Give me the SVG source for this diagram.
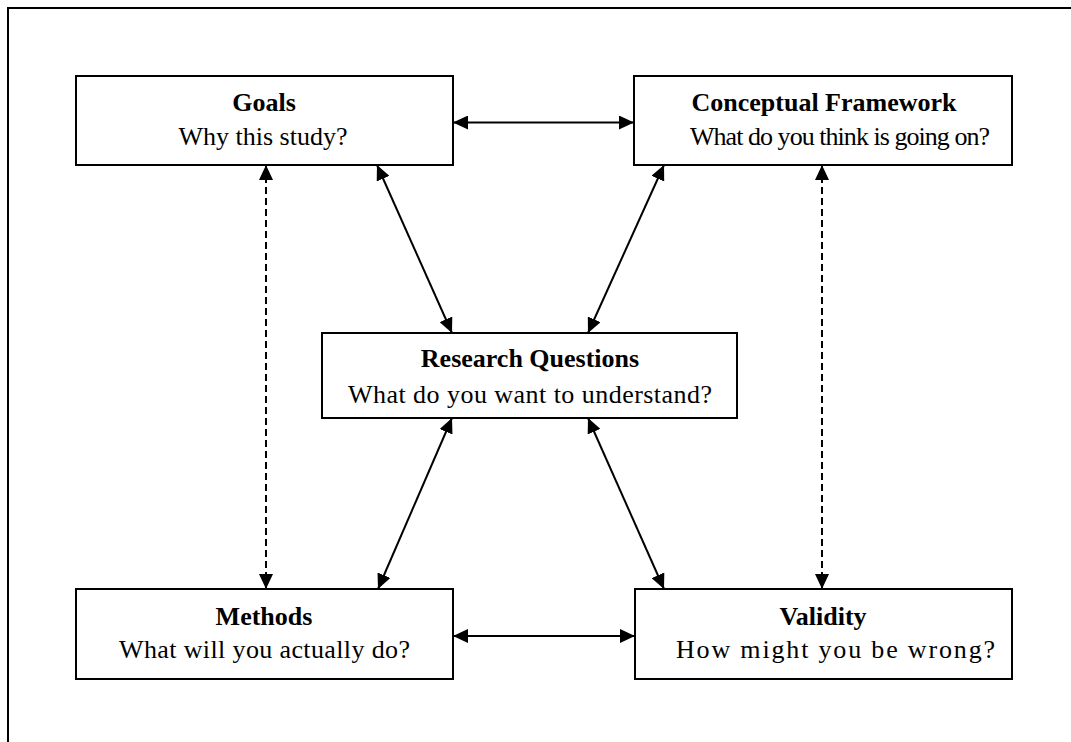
<svg xmlns="http://www.w3.org/2000/svg" width="1071" height="742" viewBox="0 0 1071 742">
<style>
.box{fill:#fff;stroke:#000;stroke-width:2}
.t{font-family:"Liberation Serif","Times New Roman",serif;font-size:26px;font-weight:bold;fill:#000;text-anchor:middle}
.s{font-family:"Liberation Serif","Times New Roman",serif;font-size:26px;fill:#000;text-anchor:middle}
.c{fill:none;stroke:#000;stroke-width:2}
.d{stroke-dasharray:7 4}
</style>
<defs>
<marker id="ah" viewBox="0 0 15 14" refX="15" refY="7" markerWidth="15" markerHeight="14" markerUnits="userSpaceOnUse" orient="auto-start-reverse">
<path d="M0,0 L15,7 L0,14 z" fill="#000"/>
</marker>
</defs>
<rect width="1071" height="742" fill="#fff"/>
<path d="M8,742 V8 H1071" fill="none" stroke="#000" stroke-width="2"/>
<g id="connectors">
<line class="c" x1="453" y1="122.5" x2="634" y2="122.5" marker-start="url(#ah)" marker-end="url(#ah)"/>
<line class="c" x1="453" y1="636" x2="635" y2="636" marker-start="url(#ah)" marker-end="url(#ah)"/>
<line class="c d" x1="266" y1="165" x2="266" y2="589" marker-start="url(#ah)" marker-end="url(#ah)"/>
<line class="c d" x1="822" y1="165" x2="822" y2="589" marker-start="url(#ah)" marker-end="url(#ah)"/>
<line class="c" x1="377" y1="165" x2="452" y2="333" marker-start="url(#ah)" marker-end="url(#ah)"/>
<line class="c" x1="664" y1="165" x2="588" y2="333" marker-start="url(#ah)" marker-end="url(#ah)"/>
<line class="c" x1="452" y1="418" x2="378" y2="589" marker-start="url(#ah)" marker-end="url(#ah)"/>
<line class="c" x1="588" y1="418" x2="664" y2="589" marker-start="url(#ah)" marker-end="url(#ah)"/>
</g>
<g id="goals">
<rect class="box" x="76" y="76" width="377" height="89"/>
<text class="t" x="264" y="111">Goals</text>
<text class="s" x="263" y="145" textLength="169" lengthAdjust="spacing">Why this study?</text>
</g>
<g id="conceptual-framework">
<rect class="box" x="634" y="76" width="378" height="89"/>
<text class="t" x="824" y="111">Conceptual Framework</text>
<text class="s" x="840" y="145" textLength="300" lengthAdjust="spacing">What do you think is going on?</text>
</g>
<g id="research-questions">
<rect class="box" x="322" y="333" width="415" height="85"/>
<text class="t" x="530" y="367">Research Questions</text>
<text class="s" x="530" y="403" textLength="364" lengthAdjust="spacing">What do you want to understand?</text>
</g>
<g id="methods">
<rect class="box" x="76" y="589" width="377" height="90"/>
<text class="t" x="264" y="625">Methods</text>
<text class="s" x="264.5" y="658" textLength="291" lengthAdjust="spacing">What will you actually do?</text>
</g>
<g id="validity">
<rect class="box" x="635" y="589" width="377" height="90"/>
<text class="t" x="823" y="625">Validity</text>
<text class="s" x="835.5" y="658" textLength="319" lengthAdjust="spacing">How might you be wrong?</text>
</g>
</svg>
